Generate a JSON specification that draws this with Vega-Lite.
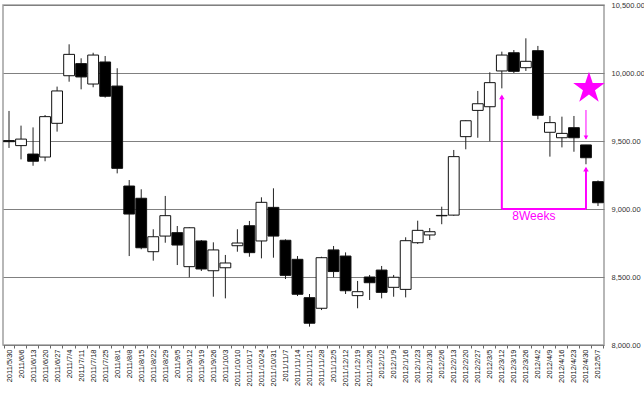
{
  "$schema": "https://vega.github.io/schema/vega-lite/v6.json",
  "width": 601,
  "height": 340,
  "autosize": {"type": "none"},
  "padding": {"left": 3, "top": 5, "right": 40, "bottom": 50},
  "background": "white",
  "config": {"view": {"stroke": "#a0a0a0", "strokeWidth": 1.5}, "font": "Liberation Sans"},
  "datasets": {
    "candles": [
      {"date": "2011/5/30", "open": 9503, "close": 9495, "high": 9721, "low": 9449},
      {"date": "2011/6/6", "open": 9466, "close": 9514, "high": 9613, "low": 9365},
      {"date": "2011/6/13", "open": 9404, "close": 9351, "high": 9600, "low": 9318},
      {"date": "2011/6/20", "open": 9382, "close": 9679, "high": 9691, "low": 9351},
      {"date": "2011/6/27", "open": 9630, "close": 9868, "high": 9900, "low": 9569},
      {"date": "2011/7/4", "open": 9980, "close": 10137, "high": 10211, "low": 9936},
      {"date": "2011/7/11", "open": 10069, "close": 9971, "high": 10108, "low": 9880},
      {"date": "2011/7/18", "open": 9919, "close": 10132, "high": 10149, "low": 9895},
      {"date": "2011/7/25", "open": 10081, "close": 9829, "high": 10125, "low": 9819},
      {"date": "2011/8/1", "open": 9904, "close": 9299, "high": 10035, "low": 9262},
      {"date": "2011/8/8", "open": 9169, "close": 8963, "high": 9213, "low": 8654},
      {"date": "2011/8/15", "open": 9079, "close": 8715, "high": 9145, "low": 8704},
      {"date": "2011/8/22", "open": 8686, "close": 8796, "high": 8851, "low": 8620},
      {"date": "2011/8/29", "open": 8801, "close": 8951, "high": 9096, "low": 8752},
      {"date": "2011/9/5", "open": 8826, "close": 8735, "high": 8875, "low": 8588},
      {"date": "2011/9/12", "open": 8576, "close": 8862, "high": 8865, "low": 8498},
      {"date": "2011/9/19", "open": 8765, "close": 8559, "high": 8772, "low": 8544},
      {"date": "2011/9/26", "open": 8546, "close": 8699, "high": 8755, "low": 8355},
      {"date": "2011/10/3", "open": 8568, "close": 8603, "high": 8662, "low": 8343},
      {"date": "2011/10/10", "open": 8730, "close": 8750, "high": 8851, "low": 8686},
      {"date": "2011/10/17", "open": 8877, "close": 8679, "high": 8912, "low": 8649},
      {"date": "2011/10/24", "open": 8765, "close": 9049, "high": 9086, "low": 8637},
      {"date": "2011/10/31", "open": 9012, "close": 8801, "high": 9152, "low": 8642},
      {"date": "2011/11/7", "open": 8770, "close": 8512, "high": 8777, "low": 8485},
      {"date": "2011/11/14", "open": 8630, "close": 8373, "high": 8654, "low": 8360},
      {"date": "2011/11/21", "open": 8348, "close": 8160, "high": 8375, "low": 8135},
      {"date": "2011/11/28", "open": 8270, "close": 8642, "high": 8649, "low": 8257},
      {"date": "2011/12/5", "open": 8699, "close": 8540, "high": 8728, "low": 8498},
      {"date": "2011/12/12", "open": 8654, "close": 8399, "high": 8681, "low": 8375},
      {"date": "2011/12/19", "open": 8363, "close": 8392, "high": 8471, "low": 8270},
      {"date": "2011/12/26", "open": 8500, "close": 8458, "high": 8515, "low": 8331},
      {"date": "2012/1/2", "open": 8551, "close": 8387, "high": 8581, "low": 8343},
      {"date": "2012/1/9", "open": 8424, "close": 8498, "high": 8515, "low": 8355},
      {"date": "2012/1/16", "open": 8409, "close": 8767, "high": 8792, "low": 8350},
      {"date": "2012/1/23", "open": 8752, "close": 8843, "high": 8914, "low": 8743},
      {"date": "2012/1/30", "open": 8809, "close": 8833, "high": 8860, "low": 8772},
      {"date": "2012/2/6", "open": 8953, "close": 8950, "high": 9017, "low": 8888},
      {"date": "2012/2/13", "open": 8955, "close": 9385, "high": 9434, "low": 8950},
      {"date": "2012/2/20", "open": 9532, "close": 9649, "high": 9652, "low": 9439},
      {"date": "2012/2/27", "open": 9725, "close": 9774, "high": 9868, "low": 9524},
      {"date": "2012/3/5", "open": 9752, "close": 9929, "high": 10005, "low": 9498},
      {"date": "2012/3/12", "open": 10015, "close": 10132, "high": 10157, "low": 9887},
      {"date": "2012/3/19", "open": 10149, "close": 10012, "high": 10169, "low": 10000},
      {"date": "2012/3/26", "open": 10039, "close": 10086, "high": 10255, "low": 10015},
      {"date": "2012/4/2", "open": 10164, "close": 9689, "high": 10199, "low": 9660},
      {"date": "2012/4/9", "open": 9564, "close": 9635, "high": 9684, "low": 9385},
      {"date": "2012/4/16", "open": 9524, "close": 9556, "high": 9679, "low": 9453},
      {"date": "2012/4/23", "open": 9598, "close": 9524, "high": 9684, "low": 9421},
      {"date": "2012/4/30", "open": 9471, "close": 9377, "high": 9471, "low": 9329},
      {"date": "2012/5/7", "open": 9201, "close": 9046, "high": 9210, "low": 9022}
    ],
    "thickArrows": [
      {"date": "2012/3/12", "from": 9000, "to": 9830},
      {"date": "2012/4/30", "from": 9000, "to": 9300}
    ],
    "upHeads": [
      {"date": "2012/3/12", "y": 9843},
      {"date": "2012/4/30", "y": 9311}
    ],
    "baseLine": [
      {"date": "2012/3/12", "date2": "2012/4/30", "y": 9000}
    ],
    "thinArrow": [
      {"date": "2012/4/30", "from": 9728, "to": 9515}
    ],
    "downHeads": [
      {"date": "2012/4/30", "y": 9507}
    ],
    "starPoint": [
      {"date": "2012/4/30", "y": 9888}
    ],
    "noteText": [
      {"date": "2012/4/2", "y": 9000, "text": "8Weeks"}
    ]
  },
  "encoding": {
    "x": {
      "field": "date",
      "type": "ordinal",
      "sort": null,
      "scale": {
        "type": "band",
        "paddingInner": 0.1,
        "paddingOuter": 0.05,
        "domain": ["2011/5/30","2011/6/6","2011/6/13","2011/6/20","2011/6/27","2011/7/4","2011/7/11","2011/7/18","2011/7/25","2011/8/1","2011/8/8","2011/8/15","2011/8/22","2011/8/29","2011/9/5","2011/9/12","2011/9/19","2011/9/26","2011/10/3","2011/10/10","2011/10/17","2011/10/24","2011/10/31","2011/11/7","2011/11/14","2011/11/21","2011/11/28","2011/12/5","2011/12/12","2011/12/19","2011/12/26","2012/1/2","2012/1/9","2012/1/16","2012/1/23","2012/1/30","2012/2/6","2012/2/13","2012/2/20","2012/2/27","2012/3/5","2012/3/12","2012/3/19","2012/3/26","2012/4/2","2012/4/9","2012/4/16","2012/4/23","2012/4/30","2012/5/7"]
      },
      "axis": {
        "title": null,
        "orient": "bottom",
        "labelAngle": 270,
        "labelFontSize": 7.5,
        "labelColor": "#111",
        "labelPadding": 1,
        "tickBand": "extent",
        "tickSize": 3,
        "tickColor": "#666",
        "domain": false,
        "grid": false,
        "labelOverlap": false
      }
    }
  },
  "layer": [
    {
      "data": {"name": "candles"},
      "mark": {"type": "rule", "color": "#222", "strokeWidth": 1},
      "encoding": {
        "y": {
          "field": "low",
          "type": "quantitative",
          "scale": {"domain": [8000, 10500], "nice": false, "zero": false},
          "axis": {
            "title": null,
            "orient": "right",
            "values": [8000, 8500, 9000, 9500, 10000, 10500],
            "format": ",.2f",
            "grid": true,
            "gridColor": "#808080",
            "gridWidth": 1,
            "ticks": false,
            "domain": false,
            "labelFontSize": 7.5,
            "labelColor": "#333",
            "labelPadding": 7,
            "labelOverlap": false,
            "labelBound": false
          }
        },
        "y2": {"field": "high"}
      }
    },
    {
      "data": {"name": "candles"},
      "mark": {"type": "bar", "stroke": "#111", "strokeWidth": 1},
      "encoding": {
        "y": {"field": "open", "type": "quantitative"},
        "y2": {"field": "close"},
        "fill": {"condition": {"test": "datum.open > datum.close", "value": "#000000"}, "value": "#ffffff"}
      }
    },
    {
      "data": {"name": "thickArrows"},
      "mark": {"type": "rule", "color": "#ff00ff", "strokeWidth": 2},
      "encoding": {
        "y": {"field": "from", "type": "quantitative"},
        "y2": {"field": "to"}
      }
    },
    {
      "data": {"name": "baseLine"},
      "mark": {"type": "rule", "color": "#ff00ff", "strokeWidth": 2},
      "encoding": {
        "x2": {"field": "date2"},
        "y": {"field": "y", "type": "quantitative"}
      }
    },
    {
      "data": {"name": "thinArrow"},
      "mark": {"type": "rule", "color": "#ff00ff", "strokeWidth": 1},
      "encoding": {
        "y": {"field": "from", "type": "quantitative"},
        "y2": {"field": "to"}
      }
    },
    {
      "data": {"name": "upHeads"},
      "mark": {"type": "point", "shape": "triangle-up", "filled": true, "color": "#ff00ff", "size": 30, "opacity": 1, "yOffset": 2.5},
      "encoding": {
        "y": {"field": "y", "type": "quantitative"}
      }
    },
    {
      "data": {"name": "downHeads"},
      "mark": {"type": "point", "shape": "triangle-down", "filled": true, "color": "#ff00ff", "size": 22, "opacity": 1, "yOffset": -2.5},
      "encoding": {
        "y": {"field": "y", "type": "quantitative"}
      }
    },
    {
      "data": {"name": "starPoint"},
      "mark": {"type": "point", "shape": "M0,-1L0.2245,-0.309L0.951,-0.309L0.363,0.118L0.588,0.809L0,0.382L-0.588,0.809L-0.363,0.118L-0.951,-0.309L-0.2245,-0.309Z", "filled": true, "color": "#ff00ff", "size": 1100, "opacity": 1, "xOffset": 3},
      "encoding": {
        "y": {"field": "y", "type": "quantitative"}
      }
    },
    {
      "data": {"name": "noteText"},
      "mark": {"type": "text", "color": "#ff00ff", "fontSize": 12, "font": "Liberation Sans", "baseline": "top", "dy": 2, "dx": -4},
      "encoding": {
        "y": {"field": "y", "type": "quantitative"},
        "text": {"field": "text"}
      }
    }
  ]
}
